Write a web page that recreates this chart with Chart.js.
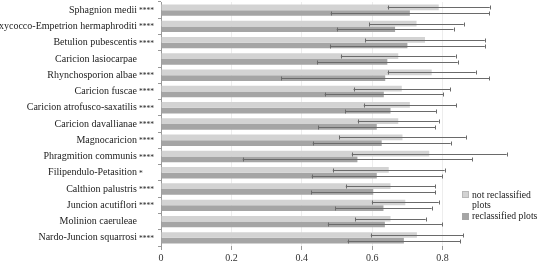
<!DOCTYPE html>
<html>
<head>
<meta charset="utf-8">
<script src="https://cdn.jsdelivr.net/npm/chart.js@4/dist/chart.umd.min.js"></script>
<style>
html,body{margin:0;padding:0;background:#fff;}
#wrap{position:relative;width:537px;height:266px;}
</style>
</head>
<body>
<div id="wrap"><canvas id="c" width="537" height="266"></canvas></div>
<script>
const categories = [
  "Sphagnion medii", "Oxycocco-Empetrion hermaphroditi", "Betulion pubescentis",
  "Caricion lasiocarpae", "Rhynchosporion albae", "Caricion fuscae",
  "Caricion atrofusco-saxatilis", "Caricion davallianae", "Magnocaricion",
  "Phragmition communis", "Filipendulo-Petasition", "Calthion palustris",
  "Juncion acutiflori", "Molinion caeruleae", "Nardo-Juncion squarrosi"
];
const significance = ["****","****","****","","****","****","****","****","****","****","*","****","****","","****"];
const notReclassified   = [0.789, 0.726, 0.750, 0.674, 0.769, 0.684, 0.707, 0.674, 0.686, 0.762, 0.647, 0.652, 0.694, 0.652, 0.727];
const notReclassifiedSD = [0.145, 0.134, 0.170, 0.163, 0.125, 0.137, 0.131, 0.115, 0.180, 0.220, 0.159, 0.127, 0.095, 0.100, 0.131];
const reclassified      = [0.707, 0.665, 0.700, 0.643, 0.637, 0.633, 0.652, 0.613, 0.627, 0.558, 0.613, 0.603, 0.632, 0.636, 0.690];
const reclassifiedSD    = [0.225, 0.166, 0.220, 0.200, 0.295, 0.168, 0.129, 0.166, 0.196, 0.326, 0.185, 0.176, 0.137, 0.162, 0.160];
const xTicks = [0, 0.2, 0.4, 0.6, 0.8];
const seriesNames = ["not reclassified plots", "reclassified plots"];

const FONT = "'Liberation Serif', 'DejaVu Serif', serif";
const LIGHT = '#d3d3d3', DARK = '#a5a5a5';

const errorBars = {
  id: 'errorBars',
  afterDatasetsDraw(chart) {
    const ctx = chart.ctx, xs = chart.scales.x;
    const sds = [notReclassifiedSD, reclassifiedSD];
    ctx.save();
    ctx.strokeStyle = '#6a6a6a';
    ctx.lineWidth = 1;
    chart.data.datasets.forEach((ds, di) => {
      const meta = chart.getDatasetMeta(di);
      meta.data.forEach((el, i) => {
        const v = ds.data[i], sd = sds[di][i];
        const x1 = xs.getPixelForValue(v - sd), x2 = xs.getPixelForValue(v + sd);
        const y = Math.round(el.y) + 0.5;
        ctx.beginPath();
        ctx.moveTo(x1, y); ctx.lineTo(x2, y);
        ctx.moveTo(Math.round(x1) + 0.5, y - 2); ctx.lineTo(Math.round(x1) + 0.5, y + 2);
        ctx.moveTo(Math.round(x2) + 0.5, y - 2); ctx.lineTo(Math.round(x2) + 0.5, y + 2);
        ctx.stroke();
      });
    });
    ctx.restore();
  }
};

// small significance stars next to the category names
const stars = {
  id: 'stars',
  afterDraw(chart) {
    const ctx = chart.ctx, ys = chart.scales.y;
    ctx.save();
    ctx.font = "7.5px " + FONT;
    ctx.fillStyle = '#222';
    ctx.textAlign = 'left';
    ctx.textBaseline = 'middle';
    significance.forEach((s, i) => {
      if (!s) return;
      ctx.fillText(s, 139, ys.getPixelForValue(i) + 1);
    });
    ctx.restore();
  }
};

const customLegend = {
  id: 'customLegend',
  afterDraw(chart) {
    const ctx = chart.ctx;
    ctx.save();
    ctx.font = "9.7px " + FONT;
    ctx.textBaseline = 'middle';
    ctx.fillStyle = LIGHT; ctx.fillRect(462, 191, 7, 7);
    ctx.strokeStyle = '#b8b8b8'; ctx.strokeRect(462.5, 191.5, 6, 6);
    ctx.fillStyle = '#222';
    const w1 = seriesNames[0].split(' ');
    ctx.fillText(w1.slice(0, 2).join(' '), 472, 195);
    ctx.fillText(w1.slice(2).join(' '), 472, 205.5);
    ctx.fillStyle = DARK; ctx.fillRect(462, 213, 7, 7);
    ctx.fillStyle = '#222';
    ctx.fillText(seriesNames[1], 472, 216.5);
    ctx.restore();
  }
};

new Chart(document.getElementById('c'), {
  type: 'bar',
  data: {
    labels: categories,
    datasets: [
      { label: seriesNames[0], data: notReclassified, backgroundColor: LIGHT, borderWidth: 0,
        categoryPercentage: 0.7, barPercentage: 1.0 },
      { label: seriesNames[1], data: reclassified, backgroundColor: DARK, borderWidth: 0,
        categoryPercentage: 0.7, barPercentage: 1.0 }
    ]
  },
  options: {
    indexAxis: 'y',
    responsive: false,
    animation: false,
    layout: { padding: { top: 2, right: 24, bottom: 0, left: 0 } },
    plugins: { legend: { display: false }, tooltip: { enabled: false } },
    scales: {
      x: {
        min: 0, max: 1,
        afterBuildTicks(scale) { scale.ticks = xTicks.concat([1]).map(v => ({ value: v })); },
        ticks: {
          font: { family: FONT, size: 10 }, color: '#333', padding: 2,
          callback: (v) => (xTicks.includes(v) ? String(v) : '')
        },
        grid: {
          color: (c) => (c.tick && c.tick.value === 1 ? 'rgba(0,0,0,0)' : '#ededed'),
          tickColor: (c) => (c.tick && c.tick.value === 1 ? 'rgba(0,0,0,0)' : '#999'),
          tickLength: 4, drawTicks: true
        },
        border: { display: false }
      },
      y: {
        afterFit(scale) { scale.width = 161; scale.paddingTop = 0; scale.paddingBottom = 0; },
        ticks: {
          font: { family: FONT, size: 10 }, color: '#222', padding: 21,
          callback: (v, i) => categories[i]
        },
        grid: { display: true, drawOnChartArea: false, offset: true, tickLength: 3, color: '#999' },
        border: { display: true, color: '#999', width: 1 }
      }
    }
  },
  plugins: [errorBars, stars, customLegend]
});
</script>
</body>
</html>
